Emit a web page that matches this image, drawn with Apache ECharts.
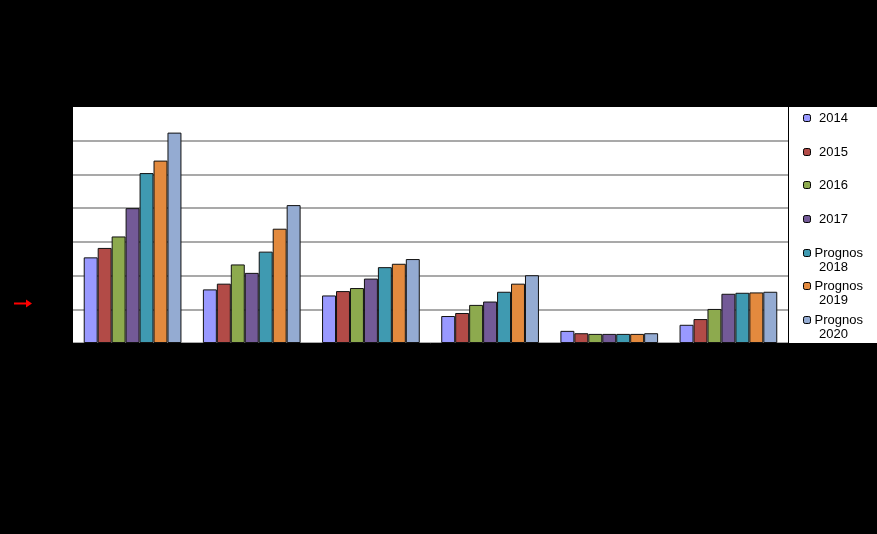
<!DOCTYPE html>
<html>
<head>
<meta charset="utf-8">
<script src="https://cdn.jsdelivr.net/npm/echarts@6/dist/echarts.min.js"></script>
<style>html,body{margin:0;padding:0;background:#000;}#c{width:877px;height:534px;}</style>
</head>
<body>
<div id="c"></div>
<script>
var categories = ['1', '2', '3', '4', '5', '6'];
var seriesNames = ['2014', '2015', '2016', '2017', 'Prognos 2018', 'Prognos 2019', 'Prognos 2020'];
var colors = ['#9999FF', '#B24B47', '#8DAA4E', '#735A97', '#3F9AB1', '#E38A3E', '#94ABD2'];
var v2014 = [2.54, 1.59, 1.41, 0.80, 0.36, 0.54];
var v2015 = [2.82, 1.76, 1.54, 0.89, 0.29, 0.71];
var v2016 = [3.16, 2.33, 1.63, 1.13, 0.27, 1.01];
var v2017 = [4.00, 2.08, 1.91, 1.23, 0.27, 1.46];
var v2018 = [5.04, 2.71, 2.25, 1.52, 0.27, 1.49];
var v2019 = [5.41, 3.39, 2.35, 1.76, 0.27, 1.50];
var v2020 = [6.24, 4.09, 2.49, 2.01, 0.29, 1.52];
var allValues = [v2014, v2015, v2016, v2017, v2018, v2019, v2020];
var yMin = 0, yMax = 7, yInterval = 1;

var chart = echarts.init(document.getElementById('c'));

var legendCenters = [118, 152, 185, 219, 253, 286, 320];
var legends = seriesNames.map(function (name, i) {
  var two = name.indexOf('Prognos') === 0;
  return {
    data: [name],
    orient: 'vertical',
    left: 803,
    top: two ? legendCenters[i] - 21 : legendCenters[i] - 7,
    padding: 0,
    itemWidth: 7,
    itemHeight: 7,
    selectedMode: false,
    itemStyle: { borderColor: '#000', borderWidth: 1 },
    formatter: function (n) {
      return n.indexOf('Prognos') === 0 ? '\n{p|Prognos}\n ' + n.split(' ')[1] : ' ' + n;
    },
    textStyle: {
      color: '#000',
      fontFamily: 'Liberation Sans, Arial, sans-serif',
      fontSize: 13,
      lineHeight: 14,
      rich: { p: { color: '#000', fontFamily: 'Liberation Sans, Arial, sans-serif', fontSize: 13, lineHeight: 14, padding: [0, 0, 0, -1] } }
    }
  };
});

chart.setOption({
  backgroundColor: '#000',
  animation: false,
  color: colors,
  grid: {
    left: 73, right: 89, top: 107, bottom: 191,
    show: true, backgroundColor: '#fff', borderWidth: 0
  },
  legend: legends,
  graphic: [
    { type: 'rect', z: 1, shape: { x: 789, y: 107, width: 88, height: 236 }, style: { fill: '#fff' } },
    { type: 'line', z: 1, shape: { x1: 14, y1: 303.5, x2: 27, y2: 303.5 }, style: { stroke: '#ff0000', lineWidth: 2 } },
    { type: 'polygon', z: 1, shape: { points: [[26, 299.5], [32, 303.5], [26, 307.5]] }, style: { fill: '#ff0000' } }
  ],
  xAxis: {
    type: 'category',
    data: categories,
    axisLine: { show: true, lineStyle: { color: '#000', width: 1 } },
    axisTick: { show: false },
    axisLabel: { show: false }
  },
  yAxis: {
    type: 'value',
    min: yMin, max: yMax, interval: yInterval,
    axisLine: { show: false },
    axisTick: { show: false },
    axisLabel: { show: false },
    splitLine: { showMaxLine: false, lineStyle: { color: '#8c8c8c', width: 1.5 } }
  },
  series: seriesNames.map(function (name, i) {
    return {
      name: name,
      type: 'bar',
      data: allValues[i],
      barGap: '0%',
      barCategoryGap: '18%',
      itemStyle: { color: colors[i], borderColor: '#111', borderWidth: 1 }
    };
  })
});
</script>
</body>
</html>
